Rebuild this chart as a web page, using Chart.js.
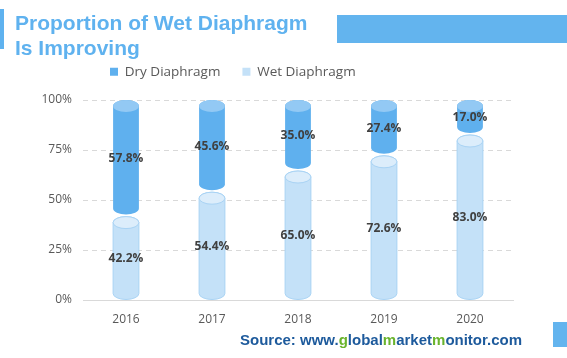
<!DOCTYPE html>
<html>
<head>
<meta charset="utf-8">
<script src="https://cdn.jsdelivr.net/npm/chart.js@4.4.0/dist/chart.umd.min.js"></script>
<style>
  html, body { margin: 0; padding: 0; background: #fff; }
  #wrap { position: relative; width: 567px; height: 358px; overflow: hidden; }
  #myChart { position: absolute; left: 0; top: 0; }
  .accent { position: absolute; left: 0; top: 9px; width: 4px; height: 40px; background: #5fb2ef; }
  .title { position: absolute; left: 15px; top: 10px; font: bold 21px "Liberation Sans", Arial, sans-serif; line-height: 25px; color: #5fb2ef; }
  .band { position: absolute; left: 337px; top: 15px; width: 230px; height: 28px; background: #63b4ee; }
  .corner { position: absolute; left: 553px; top: 322px; width: 14px; height: 25px; background: #63b4ee; }
  .source { position: absolute; left: 240px; top: 331px; font: bold 15px "Liberation Sans", Arial, sans-serif; color: #1d5a9c; white-space: nowrap; }
  .source span { color: #6ab42d; }
</style>
</head>
<body>
<div id="wrap">
  <canvas id="myChart" width="567" height="358"></canvas>
  <div class="accent"></div>
  <div class="title">Proportion of Wet Diaphragm<br>Is Improving</div>
  <div class="band"></div>
  <div class="corner"></div>
  <div class="source">Source: www.<span>g</span>lobal<span>m</span>arket<span>m</span>onitor.com</div>
</div>
<script>
var years = ['2016', '2017', '2018', '2019', '2020'];
var dryValues = [57.8, 45.6, 35.0, 27.4, 17.0];
var wetValues = [42.2, 54.4, 65.0, 72.6, 83.0];
var yTicks = [0, 25, 50, 75, 100];

var dryColor = '#5fb0ee', dryCap = '#93c9f4';
var wetColor = '#c4e1f8', wetCap = '#dcedfb', wetLine = '#a9d3f4';

// draws each bar as a cylinder, using the bar element's own coordinates
var cylinders = {
  id: 'cylinders',
  beforeDatasetDraw: function(chart, args) {
    var ctx = chart.ctx;
    var ds = chart.data.datasets[args.index];
    var isWet = args.index === 0;
    args.meta.data.forEach(function(el) {
      var p = el.getProps(['x', 'y', 'base', 'width'], true);
      var rx = p.width / 2, ry = 6;
      var top = Math.min(p.y, p.base) + (isWet ? 1 : 0);
      var bottom = Math.max(p.y, p.base) - (isWet ? 0 : 1);
      var l = p.x - rx, r = p.x + rx;
      ctx.save();
      ctx.beginPath();
      ctx.moveTo(l, top + ry);
      ctx.lineTo(l, bottom - ry);
      ctx.ellipse(p.x, bottom - ry, rx, ry, 0, Math.PI, 0, true);
      ctx.lineTo(r, top + ry);
      ctx.ellipse(p.x, top + ry, rx, ry, 0, 0, Math.PI, true);
      ctx.closePath();
      ctx.fillStyle = ds.backgroundColor;
      ctx.fill();
      if (isWet) { ctx.strokeStyle = wetLine; ctx.lineWidth = 1; ctx.stroke(); }
      ctx.beginPath();
      ctx.ellipse(p.x, top + ry, rx, ry, 0, 0, Math.PI * 2);
      ctx.fillStyle = isWet ? wetCap : dryCap;
      ctx.fill();
      if (isWet) { ctx.strokeStyle = wetLine; ctx.stroke(); }
      ctx.restore();
    });
    return false;
  },
  afterDatasetsDraw: function(chart) {
    var ctx = chart.ctx;
    ctx.save();
    ctx.font = 'bold 12px "Open Sans"';
    ctx.fillStyle = '#404040';
    ctx.textAlign = 'center';
    ctx.textBaseline = 'middle';
    chart.data.datasets.forEach(function(ds, i) {
      chart.getDatasetMeta(i).data.forEach(function(el, j) {
        var p = el.getProps(['x', 'y', 'base'], true);
        ctx.fillText(ds.data[j].toFixed(1) + '%', p.x, (p.y + p.base) / 2 + 1);
      });
    });
    ctx.restore();
  }
};

// move the legend left of centre like the original
var legendPlace = {
  id: 'legendPlace',
  afterLayout: function(chart) {
    var lg = chart.legend;
    var h = lg.bottom - lg.top;
    lg.left = 110 - 22;
    lg.right = 560;
    lg.top = 43;
    lg.bottom = 43 + h;
  }
};

var chart = new Chart(document.getElementById('myChart').getContext('2d'), {
  type: 'bar',
  data: {
    labels: years,
    datasets: [{
      label: 'Wet Diaphragm',
      data: wetValues,
      backgroundColor: wetColor,
      barPercentage: 0.3,
      categoryPercentage: 1
    }, {
      label: 'Dry Diaphragm',
      data: dryValues,
      backgroundColor: dryColor,
      barPercentage: 0.3,
      categoryPercentage: 1
    }]
  },
  options: {
    responsive: false,
    animation: false,
    layout: { padding: { left: 0, right: 54, top: 50, bottom: 23 } },
    plugins: {
      legend: {
        position: 'top',
        align: 'start',
        labels: {
          boxWidth: 8,
          boxHeight: 8,
          padding: 22,
          color: '#595959',
          font: { family: 'Open Sans', size: 13.5 },
          sort: function(a, b) { return b.datasetIndex - a.datasetIndex; }
        }
      },
      tooltip: { enabled: false }
    },
    scales: {
      x: {
        stacked: true,
        grid: { display: false, drawTicks: false },
        border: { display: true, color: '#d9d9d9', width: 1 },
        ticks: { color: '#595959', font: { family: 'Open Sans', size: 12 }, padding: 12 },
        afterFit: function(s) { s.height = 35; }
      },
      y: {
        stacked: true,
        min: 0,
        max: 100,
        afterBuildTicks: function(s) { s.ticks = yTicks.map(function(v) { return { value: v }; }); },
        grid: {
          drawTicks: false,
          color: function(c) { return c.tick && c.tick.value === 0 ? 'rgba(0,0,0,0)' : '#d9d9d9'; }
        },
        border: { display: false, dash: [5, 4] },
        ticks: {
          color: '#595959',
          font: { family: 'Open Sans', size: 12 },
          padding: 11,
          callback: function(v) { return v + '%'; }
        },
        afterFit: function(s) { s.width = 83; }
      }
    }
  },
  plugins: [cylinders, legendPlace]
});

// pin the plot top at the 100% line of the original
chart.options.layout.padding.top += 100 - chart.chartArea.top;
chart.update();
</script>
</body>
</html>
